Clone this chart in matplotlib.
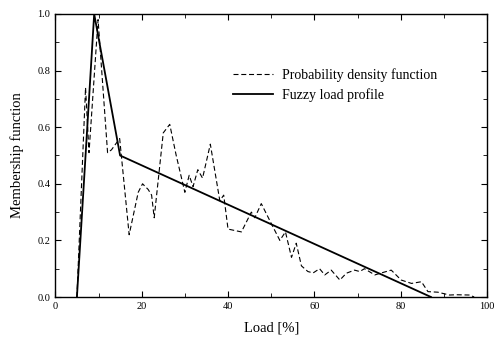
import matplotlib.pyplot as plt
from matplotlib.ticker import MultipleLocator

plt.rcParams['font.family'] = ['Liberation Serif', 'DejaVu Serif']

# fuzzy load profile (triangle + tail)
fuzzy_x = [5, 9, 15, 87]
fuzzy_y = [0.0, 1.0, 0.5, 0.0]

# probability density function
pdf_x = [5, 7, 7.8, 9.9, 12.1, 13, 14.9, 17.1, 19.2, 20.2, 21.5, 22.3, 22.9,
         25, 26.5, 28, 30, 31, 31.9, 33, 34.1, 35.9, 38.1, 39, 40, 43.1,
         45.4, 46.2, 47.7, 50, 52, 53.3, 54.7, 55.8, 57, 58.5, 59.7, 61.2,
         62.4, 63.9, 65.9, 67.4, 69.3, 70.5, 71.6, 74, 75.5, 77.8, 80.1,
         82.5, 84.8, 86.3, 88.6, 91.3, 92.9, 96, 97]
pdf_y = [0.0, 0.74, 0.51, 0.98, 0.51, 0.52, 0.56, 0.22, 0.37, 0.40, 0.38, 0.36,
         0.28, 0.58, 0.61, 0.50, 0.37, 0.43, 0.39, 0.45, 0.42, 0.54, 0.34, 0.36,
         0.24, 0.23, 0.30, 0.28, 0.33, 0.26, 0.20, 0.23, 0.14, 0.19, 0.11, 0.09,
         0.085, 0.10, 0.078, 0.095, 0.06, 0.084, 0.095, 0.09, 0.10, 0.078,
         0.085, 0.095, 0.06, 0.048, 0.054, 0.019, 0.017, 0.007, 0.008, 0.007, 0.0]

fig = plt.figure(figsize=(4.94, 3.41), dpi=100)
ax = fig.add_axes([0.112, 0.129, 0.874, 0.83])

ax.plot(pdf_x, pdf_y, color='black', lw=0.8, dashes=(4.5, 2.5),
        label='Probability density function')
ax.plot(fuzzy_x, fuzzy_y, color='black', lw=1.3, label='Fuzzy load profile')

ax.set_xlim(0, 100)
ax.set_ylim(0, 1.0)
ax.xaxis.set_major_locator(MultipleLocator(20))
ax.xaxis.set_minor_locator(MultipleLocator(10))
ax.yaxis.set_major_locator(MultipleLocator(0.2))
ax.yaxis.set_minor_locator(MultipleLocator(0.1))
ax.yaxis.set_major_formatter(plt.FormatStrFormatter('%.1f'))
ax.tick_params(which='both', direction='in', top=True, right=True, labelsize=7.5)
ax.tick_params(which='major', length=4)
ax.tick_params(which='minor', length=3)
for s in ax.spines.values():
    s.set_linewidth(1.0)

ax.set_xlabel('Load [%]', fontsize=10.5, labelpad=8)
ax.set_ylabel('Membership function', fontsize=10.5, labelpad=10)

ax.legend(frameon=False, fontsize=10, handlelength=2.9, handletextpad=0.65,
          loc='center left', bbox_to_anchor=(0.383, 0.748), labelspacing=0.45)

fig.savefig('out.png', dpi=100)
